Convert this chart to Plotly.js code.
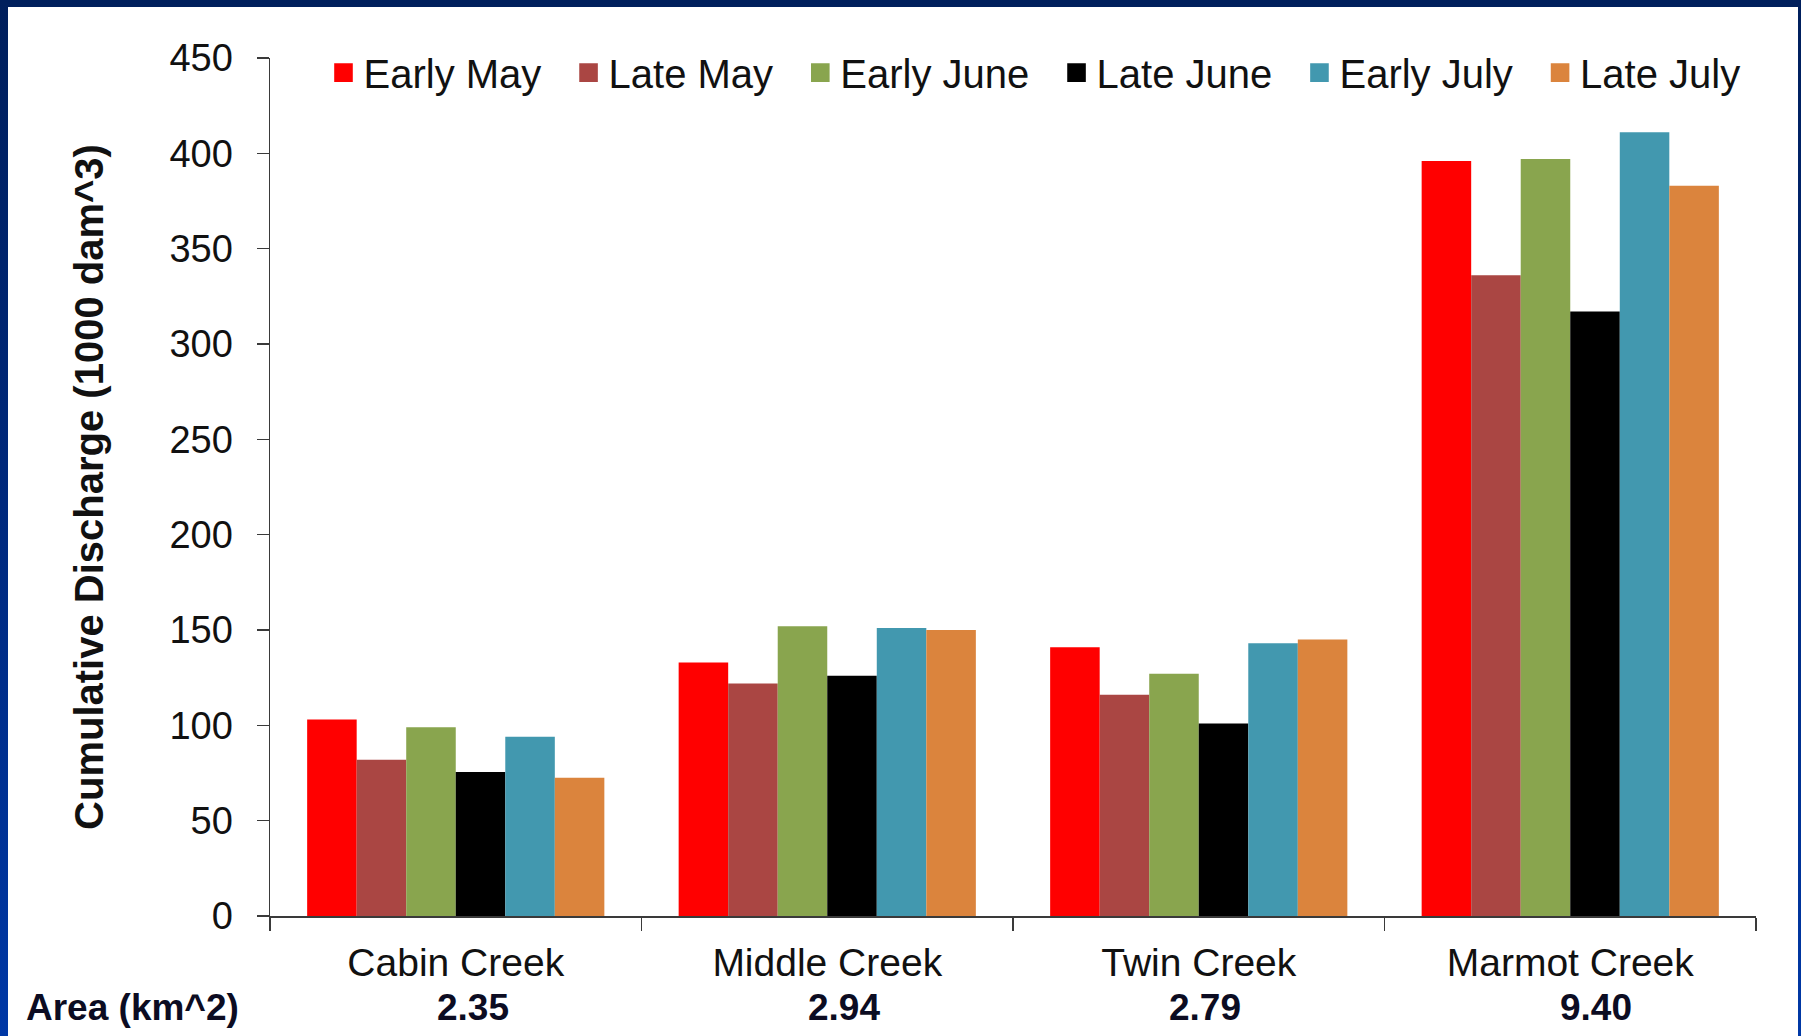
<!DOCTYPE html>
<html>
<head>
<meta charset="utf-8">
<script src="https://cdn.plot.ly/plotly-3.0.1.min.js"></script>
<style>
  html, body { margin: 0; padding: 0; }
  body {
    width: 1801px; height: 1036px; overflow: hidden;
    background: linear-gradient(180deg, #001f5c 0%, #00287a 45%, #0038a6 100%);
    position: relative;
  }
  #chart { position: absolute; left: 8px; top: 7px; width: 1790px; height: 1029px; background: #fff; }
</style>
</head>
<body>
<div id="chart"></div>
<script>
// Creeks and their drainage areas (km^2)
const creeks = ["Cabin Creek", "Middle Creek", "Twin Creek", "Marmot Creek"];
const areas = ["2.35", "2.94", "2.79", "9.40"];

// Cumulative discharge (1000 dam^3) per sampling period
const periods = ["Early May", "Late May", "Early June", "Late June", "Early July", "Late July"];
const earlyMay  = [103, 133, 141, 396];
const lateMay   = [82, 122, 116, 336];
const earlyJune = [99, 152, 127, 397];
const lateJune  = [75.5, 126, 101, 317];
const earlyJuly = [94, 151, 143, 411];
const lateJuly  = [72.5, 150, 145, 383];

const seriesValues = [earlyMay, lateMay, earlyJune, lateJune, earlyJuly, lateJuly];
const seriesColors = ["#ff0000", "#aa4643", "#89a54e", "#000000", "#4298af", "#db843d"];

// horizontal nudges of the area labels under each creek
const areaShift = [17, 17, 6, 26];

const FONT = "Liberation Sans, Arial, Helvetica, sans-serif";
const PAD = "\u00a0\u00a0";

const traces = periods.map((p, i) => ({
  type: "bar",
  name: p + PAD,
  x: creeks,
  y: seriesValues[i],
  marker: { color: seriesColors[i], line: { width: 0 } },
  hoverinfo: "skip"
}));

const annotations = [{
  text: "<b>Area (km^2)</b>",
  xref: "paper", yref: "paper", x: 0, y: 0,
  xanchor: "right", yanchor: "middle",
  xshift: -29, yshift: -91,
  showarrow: false,
  font: { family: FONT, size: 37, color: "#0c0c22" }
}].concat(creeks.map((c, i) => ({
  text: "<b>" + areas[i] + "</b>",
  xref: "x", yref: "paper", x: c, y: 0,
  xanchor: "center", yanchor: "middle",
  xshift: areaShift[i], yshift: -91,
  showarrow: false,
  font: { family: FONT, size: 37, color: "#0c0c22" }
})));

const layout = {
  width: 1790,
  height: 1029,
  paper_bgcolor: "#ffffff",
  plot_bgcolor: "#ffffff",
  margin: { l: 262, r: 42, t: 51, b: 120 },
  barmode: "group",
  bargap: 0.2,
  bargroupgap: 0,
  font: { family: FONT, color: "#111111" },
  showlegend: true,
  legend: {
    orientation: "h",
    x: 0.036, xanchor: "left",
    y: 0.983, yanchor: "middle",
    bgcolor: "rgba(0,0,0,0)",
    font: { family: FONT, size: 40, color: "#111111" },
    traceorder: "normal"
  },
  xaxis: {
    type: "category",
    showline: true, linecolor: "#3a3a3a", linewidth: 1.5,
    ticks: "outside", tickson: "boundaries", ticklen: 13, tickwidth: 1.5, tickcolor: "#3a3a3a",
    tickfont: { family: FONT, size: 39, color: "#111111" },
    ticklabelstandoff: 12,
    showgrid: false, zeroline: false,
    fixedrange: true
  },
  yaxis: {
    range: [0, 450],
    dtick: 50,
    showline: true, linecolor: "#3a3a3a", linewidth: 1.5,
    ticks: "outside", ticklen: 12, tickwidth: 1.5, tickcolor: "#3a3a3a",
    tickfont: { family: FONT, size: 38, color: "#111111" },
    ticklabelstandoff: 16,
    showgrid: false, zeroline: false,
    automargin: false,
    title: {
      text: "<b>Cumulative Discharge (1000 dam^3)</b>",
      font: { family: FONT, size: 40, color: "#111111" },
      standoff: 53
    },
    fixedrange: true
  },
  annotations: annotations
};

Plotly.newPlot("chart", traces, layout, { staticPlot: true, displayModeBar: false }).then(gd => {
  // enlarge the legend swatches
  gd.querySelectorAll(".legend .legendpoints path").forEach(el => {
    const t = el.getAttribute("transform") || "";
    el.setAttribute("transform", t + " scale(1.55)");
  });
});
</script>
</body>
</html>
